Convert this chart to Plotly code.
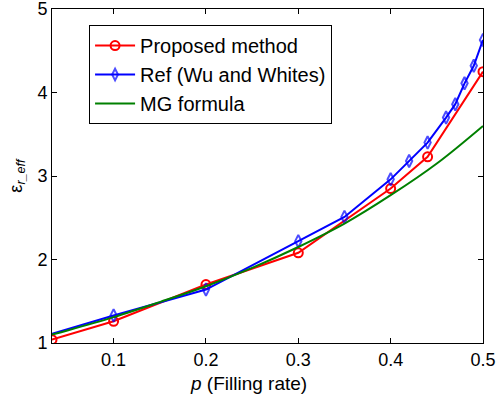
import plotly.graph_objects as go

# Proposed method
p_prop = [0.0333, 0.1, 0.2, 0.3, 0.4, 0.44, 0.5]
eps_prop = [1.04, 1.26, 1.70, 2.08, 2.85, 3.23, 4.25]

# Ref (Wu and Whites)
p_ref = [0.0333, 0.1, 0.2, 0.3, 0.35, 0.4, 0.42, 0.44, 0.46, 0.47, 0.48, 0.49, 0.5]
eps_ref = [1.11, 1.33, 1.64, 2.22, 2.51, 2.96, 3.18, 3.40, 3.70, 3.86, 4.11, 4.32, 4.63]
ref_marker_size = [0] + [9] * (len(p_ref) - 1)

# MG formula
p_mg = [0.0333, 0.05, 0.1, 0.15, 0.2, 0.25, 0.3, 0.35, 0.4, 0.45, 0.5]
eps_mg = [1.10, 1.15, 1.31, 1.49, 1.68, 1.90, 2.15, 2.43, 2.77, 3.15, 3.60]

x_ticks = [0.1, 0.2, 0.3, 0.4, 0.5]
y_ticks = [1, 2, 3, 4, 5]

font_family = "Liberation Sans, Arial, sans-serif"

fig = go.Figure()
fig.add_trace(go.Scatter(
    x=p_prop, y=eps_prop, mode="lines+markers", name="Proposed method",
    line=dict(color="#ff0000", width=2),
    marker=dict(symbol="circle-open", size=9, color="#ff0000", line=dict(width=2)),
))
fig.add_trace(go.Scatter(
    x=p_ref, y=eps_ref, mode="lines+markers", name="Ref (Wu and Whites)",
    line=dict(color="#0000ff", width=2),
    marker=dict(symbol="diamond-tall-open", size=ref_marker_size, color="#0000ff", line=dict(width=2)),
))
fig.add_trace(go.Scatter(
    x=p_mg, y=eps_mg, mode="lines", name="MG formula",
    line=dict(color="#008000", width=2, shape="spline"),
))

axis_common = dict(
    showgrid=False, zeroline=False, showline=True, mirror="ticks",
    linecolor="black", linewidth=1, ticks="inside", ticklen=5,
    tickcolor="black", tickfont=dict(size=18, color="black", family=font_family),
    automargin=False, ticklabeloverflow="allow",
)

fig.update_layout(
    width=497, height=402,
    margin=dict(l=52, r=14, t=9, b=59),
    paper_bgcolor="white", plot_bgcolor="white",
    font=dict(family=font_family, color="black"),
    xaxis=dict(range=[0.0333, 0.5], tickvals=x_ticks, ticktext=[str(v) for v in x_ticks],
               **axis_common),
    yaxis=dict(range=[1, 5], tickvals=y_ticks, ticktext=[str(v) for v in y_ticks],
               title=dict(text="ε<sub><i>r_eff</i></sub>", font=dict(size=18, color="black"), standoff=10),
               **axis_common),
    legend=dict(x=0.086, y=0.952, xanchor="left", yanchor="top",
                bgcolor="white", bordercolor="black", borderwidth=1,
                font=dict(size=20, family=font_family, color="black"),
                tracegroupgap=0, itemwidth=40),
    showlegend=True,
    hovermode=False,
    annotations=[dict(
        text="<i>p</i> (Filling rate)", xref="paper", yref="paper",
        x=0.455, y=-0.12, xanchor="center", yanchor="middle", showarrow=False,
        font=dict(size=19, color="black", family=font_family),
    )],
)

fig.write_html("out.html", config={"displayModeBar": False},
               post_script="document.body.style.margin='0';document.body.style.overflow='hidden';")
